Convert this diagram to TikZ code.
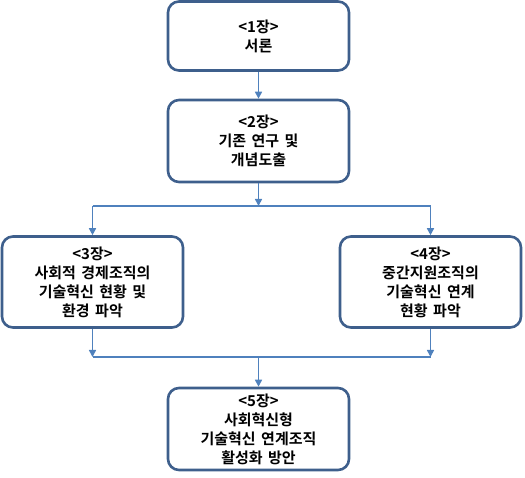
\documentclass[tikz,border=0pt]{standalone}
\usepackage{fontspec}
\usepackage{tikz}
\usetikzlibrary{arrows.meta}
\setmainfont{Noto Sans CJK KR}[BoldFont={Noto Sans CJK KR Bold},WordSpace=1.6]
\definecolor{boxline}{HTML}{3E5F8C}
\definecolor{arrowline}{HTML}{4F81BD}
\tikzset{
  chapbox/.style={draw=boxline,line width=2.6pt,rounded corners=11pt,fill=white,
    minimum width=181pt,align=center,font=\bfseries\fontsize{15}{19}\selectfont},
  flow/.style={draw=arrowline,line width=1.6pt},
  flowarrow/.style={flow,-{Triangle[length=7pt,width=7pt]}}
}
\begin{document}
\begin{tikzpicture}[x=1pt,y=-1pt]
    \useasboundingbox (0,0) rectangle (525,478);
    \node [chapbox,minimum height=69pt] (ch1) at (258.5,36) {<1장>\\서론}; % intro
    \node [chapbox,minimum height=82pt] (ch2) at (258.5,141) {<2장>\\기존 연구 및\\개념도출};
    \node [chapbox,minimum height=91pt] (ch3) at (92.5,282) {<3장>\\사회적 경제조직의\\기술혁신 현황 및\\환경 파악};
    \node [chapbox,minimum height=91pt] (ch4) at (430.5,282) {<4장>\\중간지원조직의\\기술혁신 연계\\현황 파악};
    \node [chapbox,minimum height=82pt] (ch5) at (258.5,429) {<5장>\\사회혁신형\\기술혁신 연계조직\\활성화 방안};

    \coordinate (split) at (258.5,206); \coordinate (split3) at (92.5,206); \coordinate (split4) at (430.5,206); % split
    \coordinate (join) at (258.5,357); \coordinate (join3) at (92.5,357); \coordinate (join4) at (430.5,357); % join

    \draw [flowarrow] (ch1) -- (ch2);
    \draw [flowarrow] (ch2) -- (split);
    \draw [flow] (split3) -- (split4);
    \draw [flowarrow] (split3) -- (ch3); \draw [flowarrow] (split4) -- (ch4);
    \draw [flowarrow] (ch3) -- (join3); \draw [flowarrow] (ch4) -- (join4);
    \draw [flow] (join3) -- (join4);
    \draw [flowarrow] (join) -- (ch5);
\end{tikzpicture}
\end{document}
